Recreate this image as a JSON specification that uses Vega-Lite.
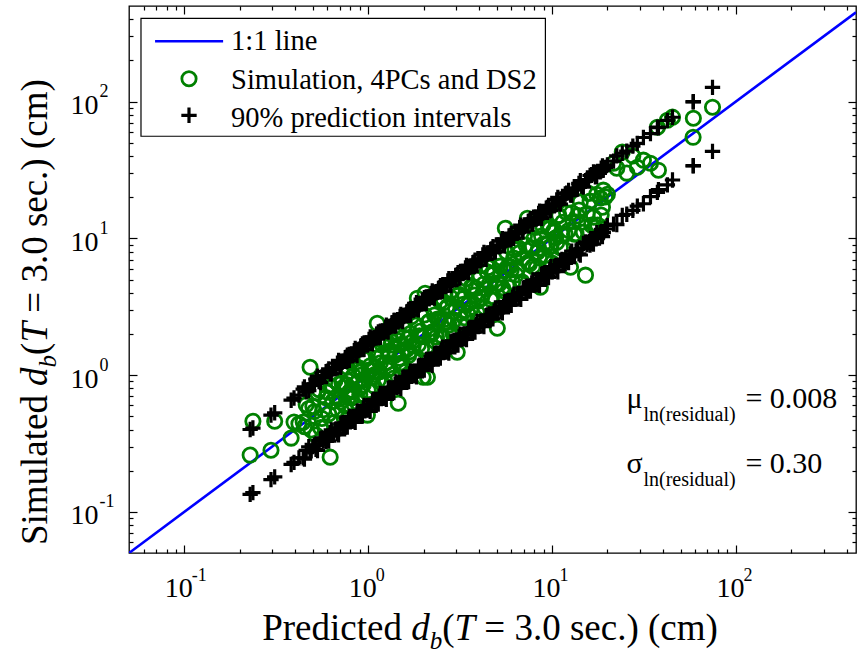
{
 "$schema": "https://vega.github.io/schema/vega-lite/v6.json",
 "width": 727,
 "height": 547,
 "autosize": {"type": "none"},
 "padding": {"left": 129, "top": 6, "right": 2, "bottom": 110},
 "background": "white",
 "config": {
  "view": {"stroke": "black", "strokeWidth": 1.3},
  "font": "Liberation Serif",
  "axis": {"grid": false, "domain": false, "title": null, "labelFont": "Liberation Serif", "labelColor": "black", "tickColor": "black", "tickWidth": 1.2, "labelFlush": false, "labelOverlap": false}
 },
 "resolve": {"axis": {"x": "independent", "y": "independent"}},
 "data": {"values": [
  {"x":0.228,"y":0.26,"lo":0.134,"hi":0.40},
  {"x":0.236,"y":0.46,"lo":0.138,"hi":0.41},
  {"x":0.296,"y":0.282,"lo":0.172,"hi":0.51},
  {"x":0.31,"y":0.46,"lo":0.18,"hi":0.53},
  {"x":0.381,"y":0.346,"lo":0.222,"hi":0.655},
  {"x":0.395,"y":0.453,"lo":0.23,"hi":0.68},
  {"x":0.42,"y":0.441,"lo":0.248,"hi":0.714},
  {"x":0.443,"y":0.453,"lo":0.248,"hi":0.789},
  {"x":0.46,"y":0.607,"lo":0.281,"hi":0.754},
  {"x":0.483,"y":1.14,"lo":0.275,"hi":0.84},
  {"x":0.50,"y":0.59,"lo":0.30,"hi":0.84},
  {"x":0.52,"y":0.364,"lo":0.286,"hi":0.936},
  {"x":0.54,"y":0.783,"lo":0.313,"hi":0.896},
  {"x":0.56,"y":0.482,"lo":0.347,"hi":0.963},
  {"x":0.583,"y":0.417,"lo":0.344,"hi":0.991},
  {"x":0.60,"y":0.75,"lo":0.336,"hi":1.07},
  {"x":0.621,"y":0.251,"lo":0.379,"hi":1.02},
  {"x":0.64,"y":0.64,"lo":0.365,"hi":1.11},
  {"x":0.66,"y":0.911,"lo":0.396,"hi":1.11},
  {"x":0.68,"y":0.558,"lo":0.374,"hi":1.22},
  {"x":0.70,"y":0.672,"lo":0.406,"hi":1.16},
  {"x":0.72,"y":0.878,"lo":0.446,"hi":1.24},
  {"x":0.74,"y":0.488,"lo":0.437,"hi":1.26},
  {"x":0.76,"y":0.851,"lo":0.426,"hi":1.35},
  {"x":0.78,"y":0.686,"lo":0.476,"hi":1.28},
  {"x":0.80,"y":1.24,"lo":0.456,"hi":1.39},
  {"x":0.82,"y":0.771,"lo":0.492,"hi":1.38},
  {"x":0.84,"y":0.605,"lo":0.462,"hi":1.51},
  {"x":0.86,"y":1.10,"lo":0.499,"hi":1.43},
  {"x":0.88,"y":0.898,"lo":0.546,"hi":1.51},
  {"x":0.90,"y":0.72,"lo":0.531,"hi":1.53},
  {"x":0.92,"y":1.06,"lo":0.515,"hi":1.64},
  {"x":0.94,"y":0.846,"lo":0.573,"hi":1.54},
  {"x":0.96,"y":1.30,"lo":0.547,"hi":1.67},
  {"x":0.99,"y":0.51,"lo":0.594,"hi":1.66},
  {"x":1.01,"y":1.09,"lo":0.556,"hi":1.82},
  {"x":1.04,"y":1.09,"lo":0.603,"hi":1.73},
  {"x":1.07,"y":0.835,"lo":0.663,"hi":1.84},
  {"x":1.10,"y":1.45,"lo":0.649,"hi":1.87},
  {"x":1.12,"y":2.39,"lo":0.627,"hi":1.99},
  {"x":1.15,"y":1.06,"lo":0.702,"hi":1.89},
  {"x":1.18,"y":1.39,"lo":0.673,"hi":2.05},
  {"x":1.21,"y":0.847,"lo":0.726,"hi":2.03},
  {"x":1.24,"y":1.80,"lo":0.682,"hi":2.23},
  {"x":1.27,"y":1.09,"lo":0.737,"hi":2.11},
  {"x":1.30,"y":1.43,"lo":0.806,"hi":2.24},
  {"x":1.33,"y":1.66,"lo":0.785,"hi":2.26},
  {"x":1.36,"y":1.01,"lo":0.762,"hi":2.42},
  {"x":1.40,"y":1.40,"lo":0.854,"hi":2.30},
  {"x":1.43,"y":1.97,"lo":0.815,"hi":2.49},
  {"x":1.456,"y":0.623,"lo":0.874,"hi":2.45},
  {"x":1.49,"y":1.22,"lo":0.82,"hi":2.68},
  {"x":1.52,"y":1.46,"lo":0.882,"hi":2.52},
  {"x":1.56,"y":1.90,"lo":0.967,"hi":2.68},
  {"x":1.60,"y":1.06,"lo":0.944,"hi":2.72},
  {"x":1.64,"y":1.84,"lo":0.918,"hi":2.92},
  {"x":1.68,"y":1.48,"lo":1.02,"hi":2.76},
  {"x":1.72,"y":2.67,"lo":0.98,"hi":2.99},
  {"x":1.76,"y":1.65,"lo":1.06,"hi":2.96},
  {"x":1.80,"y":1.30,"lo":0.99,"hi":3.24},
  {"x":1.85,"y":3.65,"lo":1.07,"hi":3.07},
  {"x":1.90,"y":1.94,"lo":1.18,"hi":3.27},
  {"x":1.95,"y":1.56,"lo":1.15,"hi":3.32},
  {"x":1.99,"y":0.965,"lo":1.11,"hi":3.54},
  {"x":2.04,"y":3.97,"lo":1.24,"hi":3.35},
  {"x":2.10,"y":0.965,"lo":1.20,"hi":3.65},
  {"x":2.15,"y":2.47,"lo":1.29,"hi":3.61},
  {"x":2.20,"y":1.98,"lo":1.21,"hi":3.96},
  {"x":2.26,"y":3.05,"lo":1.31,"hi":3.75},
  {"x":2.32,"y":1.76,"lo":1.44,"hi":3.99},
  {"x":2.38,"y":2.57,"lo":1.40,"hi":4.05},
  {"x":2.44,"y":2.56,"lo":1.37,"hi":4.34},
  {"x":2.50,"y":1.95,"lo":1.53,"hi":4.10},
  {"x":2.57,"y":3.39,"lo":1.46,"hi":4.47},
  {"x":2.64,"y":2.43,"lo":1.58,"hi":4.44},
  {"x":2.71,"y":3.20,"lo":1.49,"hi":4.88},
  {"x":2.78,"y":1.95,"lo":1.61,"hi":4.61},
  {"x":2.86,"y":4.15,"lo":1.77,"hi":4.92},
  {"x":2.94,"y":2.53,"lo":1.73,"hi":5.00},
  {"x":3.05,"y":1.47,"lo":1.71,"hi":5.43},
  {"x":3.12,"y":3.90,"lo":1.90,"hi":5.12},
  {"x":3.20,"y":2.37,"lo":1.82,"hi":5.57},
  {"x":3.29,"y":3.29,"lo":1.97,"hi":5.53},
  {"x":3.38,"y":4.66,"lo":1.86,"hi":6.08},
  {"x":3.47,"y":2.85,"lo":2.01,"hi":5.76},
  {"x":3.56,"y":3.42,"lo":2.21,"hi":6.12},
  {"x":3.66,"y":4.47,"lo":2.16,"hi":6.22},
  {"x":3.76,"y":2.48,"lo":2.11,"hi":6.69},
  {"x":3.86,"y":4.32,"lo":2.35,"hi":6.33},
  {"x":3.97,"y":3.49,"lo":2.26,"hi":6.91},
  {"x":4.08,"y":6.32,"lo":2.45,"hi":6.85},
  {"x":4.20,"y":3.95,"lo":2.31,"hi":7.56},
  {"x":4.32,"y":3.11,"lo":2.51,"hi":7.17},
  {"x":4.44,"y":5.68,"lo":2.75,"hi":7.64},
  {"x":4.57,"y":4.66,"lo":2.70,"hi":7.77},
  {"x":4.70,"y":3.76,"lo":2.63,"hi":8.37},
  {"x":4.84,"y":5.57,"lo":2.95,"hi":7.94},
  {"x":5.04,"y":2.20,"lo":2.87,"hi":8.77},
  {"x":5.15,"y":4.64,"lo":3.09,"hi":8.65},
  {"x":5.30,"y":7.16,"lo":2.92,"hi":9.54},
  {"x":5.45,"y":4.14,"lo":3.16,"hi":9.05},
  {"x":5.57,"y":11.85,"lo":3.45,"hi":9.58},
  {"x":5.75,"y":6.21,"lo":3.39,"hi":9.78},
  {"x":5.92,"y":6.22,"lo":3.32,"hi":10.5},
  {"x":6.10,"y":4.76,"lo":3.72,"hi":10.0},
  {"x":6.28,"y":8.29,"lo":3.58,"hi":10.9},
  {"x":6.47,"y":5.95,"lo":3.88,"hi":10.9},
  {"x":6.66,"y":7.86,"lo":3.66,"hi":12.0},
  {"x":6.86,"y":4.80,"lo":3.98,"hi":11.4},
  {"x":7.07,"y":10.3,"lo":4.38,"hi":12.2},
  {"x":7.34,"y":14.0,"lo":4.33,"hi":12.5},
  {"x":7.52,"y":6.47,"lo":4.21,"hi":13.4},
  {"x":7.75,"y":8.53,"lo":4.73,"hi":12.7},
  {"x":7.98,"y":9.98,"lo":4.55,"hi":13.9},
  {"x":8.22,"y":6.08,"lo":4.93,"hi":13.8},
  {"x":8.45,"y":8.45,"lo":4.65,"hi":15.2},
  {"x":8.64,"y":4.39,"lo":5.01,"hi":14.3},
  {"x":8.90,"y":12.3,"lo":5.52,"hi":15.3},
  {"x":9.16,"y":7.51,"lo":5.40,"hi":15.6},
  {"x":9.43,"y":9.05,"lo":5.28,"hi":16.8},
  {"x":9.71,"y":11.8,"lo":5.92,"hi":15.9},
  {"x":10.0,"y":6.6,"lo":5.70,"hi":17.4},
  {"x":10.3,"y":11.5,"lo":6.18,"hi":17.3},
  {"x":10.6,"y":9.33,"lo":5.83,"hi":19.1},
  {"x":10.9,"y":14.7,"lo":6.32,"hi":18.1},
  {"x":11.3,"y":10.6,"lo":7.01,"hi":19.4},
  {"x":11.6,"y":8.35,"lo":6.84,"hi":19.7},
  {"x":12.0,"y":15.4,"lo":6.72,"hi":21.4},
  {"x":12.6,"y":6.15,"lo":7.69,"hi":20.7},
  {"x":13.0,"y":13.3,"lo":7.41,"hi":22.6},
  {"x":13.5,"y":10.8,"lo":8.10,"hi":22.7},
  {"x":14.0,"y":16.1,"lo":7.70,"hi":25.2},
  {"x":14.5,"y":13.1,"lo":8.41,"hi":24.1},
  {"x":15.2,"y":5.38,"lo":9.42,"hi":26.1},
  {"x":15.8,"y":21.3,"lo":9.32,"hi":26.9},
  {"x":16.4,"y":12.5,"lo":9.18,"hi":29.2},
  {"x":17.2,"y":12.0,"lo":10.5,"hi":28.2},
  {"x":17.7,"y":12.5,"lo":10.1,"hi":30.8},
  {"x":18.3,"y":19.7,"lo":11.0,"hi":30.7},
  {"x":18.8,"y":16.9,"lo":10.3,"hi":33.8},
  {"x":19.0,"y":22.5,"lo":11.0,"hi":31.5},
  {"x":20.0,"y":21.0,"lo":12.4,"hi":34.4},
  {"x":21.6,"y":35.4,"lo":12.7,"hi":36.7},
  {"x":22.5,"y":32.6,"lo":12.6,"hi":40.1},
  {"x":24.1,"y":42.7,"lo":14.7,"hi":41.9},
  {"x":25.5,"y":30.0,"lo":15.0,"hi":43.4},
  {"x":27.5,"y":40.0,"lo":16.0,"hi":47.3},
  {"x":29.1,"y":33.1,"lo":17.2,"hi":49.5},
  {"x":31.4,"y":37.3,"lo":17.9,"hi":54.6},
  {"x":34.3,"y":35.4,"lo":20.2,"hi":58.3},
  {"x":37.4,"y":64.9,"lo":21.7,"hi":65.1},
  {"x":37.9,"y":31.5,"lo":22.7,"hi":64.4},
  {"x":42.4,"y":73.0,"lo":24.6,"hi":72.9},
  {"x":45.2,"y":76.9,"lo":26.7,"hi":76.8},
  {"x":58.5,"y":54.8,"lo":33.9,"hi":99.5},
  {"x":58.7,"y":75.5,"lo":34.0,"hi":100},
  {"x":74.6,"y":90.9,"lo":43.3,"hi":127},
  {"x":0.45,"y":0.419,"lo":0.243,"hi":0.819},
  {"x":0.475,"y":0.57,"lo":0.299,"hi":0.77},
  {"x":0.49,"y":0.397,"lo":0.279,"hi":0.862},
  {"x":0.51,"y":0.541,"lo":0.306,"hi":0.862},
  {"x":0.53,"y":0.742,"lo":0.281,"hi":0.981},
  {"x":0.55,"y":0.413,"lo":0.341,"hi":0.88},
  {"x":0.57,"y":0.559,"lo":0.331,"hi":0.986},
  {"x":0.59,"y":0.684,"lo":0.327,"hi":1.06},
  {"x":0.61,"y":0.519,"lo":0.329,"hi":1.11},
  {"x":0.63,"y":0.819,"lo":0.397,"hi":1.02},
  {"x":0.65,"y":0.449,"lo":0.371,"hi":1.14},
  {"x":0.67,"y":0.69,"lo":0.402,"hi":1.13},
  {"x":0.69,"y":0.856,"lo":0.366,"hi":1.28},
  {"x":0.71,"y":0.639,"lo":0.44,"hi":1.14},
  {"x":0.73,"y":0.81,"lo":0.423,"hi":1.26},
  {"x":0.75,"y":0.593,"lo":0.416,"hi":1.34},
  {"x":0.77,"y":1.14,"lo":0.416,"hi":1.40},
  {"x":0.79,"y":0.751,"lo":0.498,"hi":1.28},
  {"x":0.81,"y":0.68,"lo":0.462,"hi":1.43},
  {"x":0.83,"y":0.988,"lo":0.498,"hi":1.40},
  {"x":0.85,"y":0.859,"lo":0.451,"hi":1.57},
  {"x":0.87,"y":0.635,"lo":0.539,"hi":1.39},
  {"x":0.89,"y":1.13,"lo":0.516,"hi":1.54},
  {"x":0.91,"y":0.81,"lo":0.505,"hi":1.63},
  {"x":0.93,"y":1.01,"lo":0.502,"hi":1.69},
  {"x":0.95,"y":0.922,"lo":0.599,"hi":1.54},
  {"x":0.975,"y":1.33,"lo":0.556,"hi":1.72},
  {"x":1.0,"y":0.77,"lo":0.60,"hi":1.69},
  {"x":1.025,"y":1.17,"lo":0.543,"hi":1.90},
  {"x":1.055,"y":0.96,"lo":0.654,"hi":1.69},
  {"x":1.085,"y":1.01,"lo":0.629,"hi":1.88},
  {"x":1.11,"y":1.33,"lo":0.616,"hi":1.99},
  {"x":1.135,"y":0.919,"lo":0.613,"hi":2.07},
  {"x":1.165,"y":1.23,"lo":0.734,"hi":1.89},
  {"x":1.195,"y":1.67,"lo":0.681,"hi":2.10},
  {"x":1.225,"y":0.919,"lo":0.735,"hi":2.07},
  {"x":1.255,"y":1.23,"lo":0.665,"hi":2.32},
  {"x":1.285,"y":1.49,"lo":0.797,"hi":2.06},
  {"x":1.315,"y":1.12,"lo":0.763,"hi":2.27},
  {"x":1.345,"y":1.75,"lo":0.746,"hi":2.41},
  {"x":1.38,"y":0.952,"lo":0.745,"hi":2.51},
  {"x":1.415,"y":1.46,"lo":0.891,"hi":2.29},
  {"x":1.445,"y":1.79,"lo":0.824,"hi":2.54},
  {"x":1.475,"y":1.33,"lo":0.885,"hi":2.49},
  {"x":1.505,"y":1.67,"lo":0.798,"hi":2.78},
  {"x":1.54,"y":1.22,"lo":0.955,"hi":2.46},
  {"x":1.58,"y":2.34,"lo":0.916,"hi":2.73},
  {"x":1.62,"y":1.54,"lo":0.899,"hi":2.90},
  {"x":1.66,"y":1.39,"lo":0.896,"hi":3.02},
  {"x":1.70,"y":2.02,"lo":1.07,"hi":2.75},
  {"x":1.74,"y":1.76,"lo":0.992,"hi":3.06},
  {"x":1.78,"y":1.30,"lo":1.07,"hi":3.01},
  {"x":1.83,"y":2.32,"lo":0.97,"hi":3.39},
  {"x":1.875,"y":1.67,"lo":1.16,"hi":3.00},
  {"x":1.925,"y":2.10,"lo":1.12,"hi":3.33},
  {"x":1.97,"y":1.91,"lo":1.09,"hi":3.53},
  {"x":2.02,"y":2.75,"lo":1.09,"hi":3.68},
  {"x":2.07,"y":1.59,"lo":1.30,"hi":3.35},
  {"x":2.12,"y":2.42,"lo":1.21,"hi":3.73},
  {"x":2.175,"y":1.98,"lo":1.31,"hi":3.68},
  {"x":2.23,"y":2.07,"lo":1.18,"hi":4.13},
  {"x":2.29,"y":2.75,"lo":1.42,"hi":3.66},
  {"x":2.35,"y":1.90,"lo":1.36,"hi":4.07},
  {"x":2.41,"y":2.55,"lo":1.34,"hi":4.31},
  {"x":2.47,"y":3.46,"lo":1.33,"hi":4.50},
  {"x":2.535,"y":1.90,"lo":1.60,"hi":4.11},
  {"x":2.6,"y":2.55,"lo":1.48,"hi":4.58},
  {"x":2.675,"y":3.10,"lo":1.61,"hi":4.52},
  {"x":2.745,"y":2.33,"lo":1.45,"hi":5.08},
  {"x":2.82,"y":3.67,"lo":1.75,"hi":4.51},
  {"x":2.9,"y":2.00,"lo":1.68,"hi":5.02},
  {"x":2.99,"y":3.08,"lo":1.66,"hi":5.35},
  {"x":3.08,"y":3.82,"lo":1.66,"hi":5.61},
  {"x":3.16,"y":2.84,"lo":1.99,"hi":5.12},
  {"x":3.25,"y":3.61,"lo":1.85,"hi":5.72},
  {"x":3.335,"y":2.63,"lo":2.00,"hi":5.64},
  {"x":3.425,"y":5.07,"lo":1.82,"hi":6.34},
  {"x":3.515,"y":3.34,"lo":2.18,"hi":5.62},
  {"x":3.61,"y":3.03,"lo":2.09,"hi":6.25},
  {"x":3.71,"y":4.41,"lo":2.06,"hi":6.64},
  {"x":3.81,"y":3.85,"lo":2.06,"hi":6.93},
  {"x":3.915,"y":2.86,"lo":2.47,"hi":6.34},
  {"x":4.02,"y":5.11,"lo":2.29,"hi":7.08},
  {"x":4.14,"y":3.68,"lo":2.48,"hi":7.00},
  {"x":4.26,"y":4.64,"lo":2.26,"hi":7.88},
  {"x":4.38,"y":4.25,"lo":2.72,"hi":7.01},
  {"x":4.5,"y":6.12,"lo":2.61,"hi":7.79},
  {"x":4.635,"y":3.57,"lo":2.57,"hi":8.30},
  {"x":4.77,"y":5.44,"lo":2.58,"hi":8.68},
  {"x":4.92,"y":4.48,"lo":3.10,"hi":7.97},
  {"x":5.08,"y":4.72,"lo":2.90,"hi":8.94},
  {"x":5.22,"y":6.26,"lo":3.13,"hi":8.82},
  {"x":5.37,"y":4.35,"lo":2.85,"hi":9.93},
  {"x":5.51,"y":5.84,"lo":3.42,"hi":8.82},
  {"x":5.66,"y":7.92,"lo":3.28,"hi":9.79},
  {"x":5.83,"y":4.37,"lo":3.24,"hi":10.4},
  {"x":6.0,"y":5.88,"lo":3.24,"hi":10.9},
  {"x":6.19,"y":7.18,"lo":3.90,"hi":10.0},
  {"x":6.37,"y":5.41,"lo":3.63,"hi":11.2},
  {"x":6.56,"y":8.53,"lo":3.94,"hi":11.1},
  {"x":6.76,"y":4.66,"lo":3.58,"hi":12.5},
  {"x":6.96,"y":7.17,"lo":4.32,"hi":11.1},
  {"x":7.2,"y":8.93,"lo":4.18,"hi":12.5},
  {"x":7.42,"y":6.68,"lo":4.12,"hi":13.3},
  {"x":7.63,"y":8.47,"lo":4.12,"hi":13.9},
  {"x":7.87,"y":6.22,"lo":4.96,"hi":12.7},
  {"x":8.1,"y":12.0,"lo":4.62,"hi":14.3},
  {"x":8.33,"y":7.91,"lo":5.00,"hi":14.1},
  {"x":8.55,"y":7.18,"lo":4.53,"hi":15.8},
  {"x":8.77,"y":10.4,"lo":5.44,"hi":14.0},
  {"x":9.03,"y":9.12,"lo":5.24,"hi":15.6},
  {"x":9.3,"y":6.79,"lo":5.16,"hi":16.6},
  {"x":9.57,"y":12.2,"lo":5.17,"hi":17.4},
  {"x":9.85,"y":8.77,"lo":6.21,"hi":16.0},
  {"x":10.15,"y":11.1,"lo":5.79,"hi":17.9},
  {"x":10.45,"y":10.1,"lo":6.27,"hi":17.7},
  {"x":10.75,"y":14.6,"lo":5.70,"hi":19.9},
  {"x":11.1,"y":8.55,"lo":6.88,"hi":17.8},
  {"x":11.45,"y":13.1,"lo":6.64,"hi":19.8},
  {"x":11.8,"y":10.7,"lo":6.55,"hi":21.1},
  {"x":12.3,"y":11.4,"lo":6.64,"hi":22.4},
  {"x":12.8,"y":15.4,"lo":8.06,"hi":20.7},
  {"x":13.25,"y":10.7,"lo":7.55,"hi":23.3},
  {"x":13.75,"y":14.6,"lo":8.25,"hi":23.2},
  {"x":14.25,"y":18.5,"lo":7.55,"hi":26.4},
  {"x":14.8,"y":11.1,"lo":9.18,"hi":23.7},
  {"x":15.5,"y":15.2,"lo":8.99,"hi":26.8},
  {"x":16.1,"y":18.7,"lo":8.94,"hi":28.8},
  {"x":16.8,"y":14.3,"lo":9.07,"hi":30.6},
  {"x":17.5,"y":21.0,"lo":11.0,"hi":28.4},
  {"x":18.5,"y":14.8,"lo":10.5,"hi":32.6},
  {"x":19.5,"y":20.1,"lo":11.7,"hi":33.0}
 ]},
 "layer": [
  {
   "data": {"values": [{"x": 0.05, "y": 0.05}, {"x": 450, "y": 450}]},
   "mark": {"type": "line", "color": "#0000ff", "strokeWidth": 2.6, "clip": true},
   "encoding": {
    "x": {"field": "x", "type": "quantitative", "scale": {"type": "log", "domain": [0.05, 450], "nice": false},
     "axis": {"orient": "bottom", "values": [0.1, 1, 10, 100], "labelExpr": "'10'", "tickSize": 0, "labelFontSize": 28, "labelBaseline": "alphabetic", "labelPadding": 43, "labelOffset": -6}},
    "y": {"field": "y", "type": "quantitative", "scale": {"type": "log", "domain": [0.05, 500], "nice": false},
     "axis": {"orient": "left", "values": [0.1, 1, 10, 100], "labelExpr": "'10'", "tickSize": 0, "labelFontSize": 28, "labelAlign": "right", "labelBaseline": "middle", "labelPadding": 31, "labelOffset": 4}}
   }
  },
  {
   "mark": {"type": "point", "shape": "circle", "filled": false, "size": 205, "strokeWidth": 2.8, "color": "#008000", "opacity": 1},
   "encoding": {
    "x": {"field": "x", "type": "quantitative", "scale": {"type": "log", "domain": [0.05, 450], "nice": false},
     "axis": {"orient": "bottom", "values": [0.1, 1, 10, 100], "labels": false, "tickSize": -8}},
    "y": {"field": "y", "type": "quantitative", "scale": {"type": "log", "domain": [0.05, 500], "nice": false},
     "axis": {"orient": "left", "values": [0.1, 1, 10, 100], "labels": false, "tickSize": -8}}
   }
  },
  {
   "mark": {"type": "point", "shape": "M-1,0H1M0,-1V1", "filled": false, "size": 235, "strokeWidth": 3.2, "color": "black", "opacity": 1},
   "encoding": {
    "x": {"field": "x", "type": "quantitative", "scale": {"type": "log", "domain": [0.05, 450], "nice": false},
     "axis": {"orient": "bottom", "values": [0.06,0.07,0.08,0.09,0.2,0.3,0.4,0.5,0.6,0.7,0.8,0.9,2,3,4,5,6,7,8,9,20,30,40,50,60,70,80,90,200,300,400], "labels": false, "tickSize": -4}},
    "y": {"field": "lo", "type": "quantitative", "scale": {"type": "log", "domain": [0.05, 500], "nice": false},
     "axis": {"orient": "left", "values": [0.06,0.07,0.08,0.09,0.2,0.3,0.4,0.5,0.6,0.7,0.8,0.9,2,3,4,5,6,7,8,9,20,30,40,50,60,70,80,90,200,300,400], "labels": false, "tickSize": -4}}
   }
  },
  {
   "mark": {"type": "point", "shape": "M-1,0H1M0,-1V1", "filled": false, "size": 235, "strokeWidth": 3.2, "color": "black", "opacity": 1},
   "encoding": {
    "x": {"field": "x", "type": "quantitative", "scale": {"type": "log", "domain": [0.05, 450], "nice": false},
     "axis": {"orient": "top", "values": [0.1, 1, 10, 100], "labels": false, "tickSize": -8}},
    "y": {"field": "hi", "type": "quantitative", "scale": {"type": "log", "domain": [0.05, 500], "nice": false},
     "axis": {"orient": "right", "values": [0.1, 1, 10, 100], "labels": false, "tickSize": -8}}
   }
  },
  {
   "data": {"values": [{}]},
   "mark": {"type": "rect", "fill": "white", "stroke": "black", "strokeWidth": 1.2},
   "encoding": {
    "x": {"datum": 0.0581, "type": "quantitative", "scale": {"type": "log", "domain": [0.05, 450], "nice": false},
     "axis": {"orient": "top", "values": [0.06,0.07,0.08,0.09,0.2,0.3,0.4,0.5,0.6,0.7,0.8,0.9,2,3,4,5,6,7,8,9,20,30,40,50,60,70,80,90,200,300,400], "labels": false, "tickSize": -4}},
    "x2": {"datum": 9.2},
    "y": {"datum": 406.4, "type": "quantitative", "scale": {"type": "log", "domain": [0.05, 500], "nice": false},
     "axis": {"orient": "right", "values": [0.06,0.07,0.08,0.09,0.2,0.3,0.4,0.5,0.6,0.7,0.8,0.9,2,3,4,5,6,7,8,9,20,30,40,50,60,70,80,90,200,300,400], "labels": false, "tickSize": -4}},
    "y2": {"datum": 55.8}
   }
  },
  {
   "data": {"values": [{}]},
   "mark": {"type": "rule", "color": "#0000ff", "strokeWidth": 2.6},
   "encoding": {
    "x": {"datum": 0.0693, "type": "quantitative", "scale": {"type": "log", "domain": [0.05, 450], "nice": false},
     "axis": {"orient": "bottom", "values": [0.1, 1, 10, 100], "labelExpr": "datum.value < 0.5 ? '-1' : datum.value < 5 ? '0' : datum.value < 50 ? '1' : '2'", "tickSize": 0, "labelFontSize": 18, "labelAlign": "left", "labelBaseline": "alphabetic", "labelPadding": 27, "labelOffset": 7}},
    "x2": {"datum": 0.1625},
    "y": {"datum": 276, "type": "quantitative", "scale": {"type": "log", "domain": [0.05, 500], "nice": false},
     "axis": {"orient": "left", "values": [0.1, 1, 10, 100], "labelExpr": "datum.value < 0.5 ? '-1' : datum.value < 5 ? '0' : datum.value < 50 ? '1' : '2'", "tickSize": 0, "labelFontSize": 18, "labelAlign": "left", "labelBaseline": "middle", "labelPadding": 30, "labelOffset": -10}}
   }
  },
  {
   "data": {"values": [{}]},
   "mark": {"type": "point", "shape": "circle", "filled": false, "size": 205, "strokeWidth": 2.8, "color": "#008000", "opacity": 1},
   "encoding": {
    "x": {"datum": 0.106, "type": "quantitative", "scale": {"type": "log", "domain": [0.05, 450], "nice": false}, "axis": null},
    "y": {"datum": 146.8, "type": "quantitative", "scale": {"type": "log", "domain": [0.05, 500], "nice": false}, "axis": null}
   }
  },
  {
   "data": {"values": [{}]},
   "mark": {"type": "point", "shape": "M-1,0H1M0,-1V1", "filled": false, "size": 235, "strokeWidth": 3.2, "color": "black", "opacity": 1},
   "encoding": {
    "x": {"datum": 0.106, "type": "quantitative", "scale": {"type": "log", "domain": [0.05, 450], "nice": false}, "axis": null},
    "y": {"datum": 79.4, "type": "quantitative", "scale": {"type": "log", "domain": [0.05, 500], "nice": false}, "axis": null}
   }
  },
  {
   "data": {"values": [{}]},
   "mark": {"type": "text", "text": "1:1 line", "font": "Liberation Serif", "fontSize": 28.5, "align": "left", "baseline": "alphabetic", "color": "black"},
   "encoding": {
    "x": {"datum": 0.1796, "type": "quantitative", "scale": {"type": "log", "domain": [0.05, 450], "nice": false}, "axis": null},
    "y": {"datum": 237.2, "type": "quantitative", "scale": {"type": "log", "domain": [0.05, 500], "nice": false}, "axis": null}
   }
  },
  {
   "data": {"values": [{}]},
   "mark": {"type": "text", "text": "Simulation, 4PCs and DS2", "font": "Liberation Serif", "fontSize": 28.5, "align": "left", "baseline": "alphabetic", "color": "black"},
   "encoding": {
    "x": {"datum": 0.1796, "type": "quantitative", "scale": {"type": "log", "domain": [0.05, 450], "nice": false}, "axis": null},
    "y": {"datum": 124.5, "type": "quantitative", "scale": {"type": "log", "domain": [0.05, 500], "nice": false}, "axis": null}
   }
  },
  {
   "data": {"values": [{}]},
   "mark": {"type": "text", "text": "90% prediction intervals", "font": "Liberation Serif", "fontSize": 28.5, "align": "left", "baseline": "alphabetic", "color": "black"},
   "encoding": {
    "x": {"datum": 0.1796, "type": "quantitative", "scale": {"type": "log", "domain": [0.05, 450], "nice": false}, "axis": null},
    "y": {"datum": 65.2, "type": "quantitative", "scale": {"type": "log", "domain": [0.05, 500], "nice": false}, "axis": null}
   }
  },
  {
   "data": {"values": [{}]},
   "mark": {"type": "text", "text": "Predicted", "font": "Liberation Serif", "fontSize": 37, "align": "left", "baseline": "alphabetic", "color": "black", "dy": 87},
   "encoding": {
    "x": {"datum": 0.265, "type": "quantitative", "scale": {"type": "log", "domain": [0.05, 450], "nice": false}, "axis": null},
    "y": {"datum": 0.05, "type": "quantitative", "scale": {"type": "log", "domain": [0.05, 500], "nice": false}, "axis": null}
   }
  },
  {
   "data": {"values": [{}]},
   "mark": {"type": "text", "text": "d", "font": "Liberation Serif", "fontStyle": "italic", "fontSize": 37, "align": "left", "baseline": "alphabetic", "color": "black", "dy": 87},
   "encoding": {
    "x": {"datum": 1.715, "type": "quantitative", "scale": {"type": "log", "domain": [0.05, 450], "nice": false}, "axis": null},
    "y": {"datum": 0.05, "type": "quantitative", "scale": {"type": "log", "domain": [0.05, 500], "nice": false}, "axis": null}
   }
  },
  {
   "data": {"values": [{}]},
   "mark": {"type": "text", "text": "b", "font": "Liberation Serif", "fontStyle": "italic", "fontSize": 25, "align": "left", "baseline": "alphabetic", "color": "black", "dy": 96},
   "encoding": {
    "x": {"datum": 2.16, "type": "quantitative", "scale": {"type": "log", "domain": [0.05, 450], "nice": false}, "axis": null},
    "y": {"datum": 0.05, "type": "quantitative", "scale": {"type": "log", "domain": [0.05, 500], "nice": false}, "axis": null}
   }
  },
  {
   "data": {"values": [{}]},
   "mark": {"type": "text", "text": "(", "font": "Liberation Serif", "fontSize": 37, "align": "left", "baseline": "alphabetic", "color": "black", "dy": 87},
   "encoding": {
    "x": {"datum": 2.53, "type": "quantitative", "scale": {"type": "log", "domain": [0.05, 450], "nice": false}, "axis": null},
    "y": {"datum": 0.05, "type": "quantitative", "scale": {"type": "log", "domain": [0.05, 500], "nice": false}, "axis": null}
   }
  },
  {
   "data": {"values": [{}]},
   "mark": {"type": "text", "text": "T", "font": "Liberation Serif", "fontStyle": "italic", "fontSize": 37, "align": "left", "baseline": "alphabetic", "color": "black", "dy": 87},
   "encoding": {
    "x": {"datum": 2.95, "type": "quantitative", "scale": {"type": "log", "domain": [0.05, 450], "nice": false}, "axis": null},
    "y": {"datum": 0.05, "type": "quantitative", "scale": {"type": "log", "domain": [0.05, 500], "nice": false}, "axis": null}
   }
  },
  {
   "data": {"values": [{}]},
   "mark": {"type": "text", "text": "= 3.0 sec.) (cm)", "font": "Liberation Serif", "fontSize": 37, "align": "left", "baseline": "alphabetic", "color": "black", "dy": 87},
   "encoding": {
    "x": {"datum": 4.28, "type": "quantitative", "scale": {"type": "log", "domain": [0.05, 450], "nice": false}, "axis": null},
    "y": {"datum": 0.05, "type": "quantitative", "scale": {"type": "log", "domain": [0.05, 500], "nice": false}, "axis": null}
   }
  },
  {
   "data": {"values": [{}]},
   "mark": {"type": "text", "text": "Simulated", "font": "Liberation Serif", "fontSize": 37, "angle": 270, "align": "left", "baseline": "alphabetic", "color": "black", "dy": -82},
   "encoding": {
    "x": {"datum": 0.05, "type": "quantitative", "scale": {"type": "log", "domain": [0.05, 450], "nice": false}, "axis": null},
    "y": {"datum": 0.0571, "type": "quantitative", "scale": {"type": "log", "domain": [0.05, 500], "nice": false}, "axis": null}
   }
  },
  {
   "data": {"values": [{}]},
   "mark": {"type": "text", "text": "d", "font": "Liberation Serif", "fontStyle": "italic", "fontSize": 37, "angle": 270, "align": "left", "baseline": "alphabetic", "color": "black", "dy": -82},
   "encoding": {
    "x": {"datum": 0.05, "type": "quantitative", "scale": {"type": "log", "domain": [0.05, 450], "nice": false}, "axis": null},
    "y": {"datum": 0.833, "type": "quantitative", "scale": {"type": "log", "domain": [0.05, 500], "nice": false}, "axis": null}
   }
  },
  {
   "data": {"values": [{}]},
   "mark": {"type": "text", "text": "b", "font": "Liberation Serif", "fontStyle": "italic", "fontSize": 25, "angle": 270, "align": "left", "baseline": "alphabetic", "color": "black", "dy": -73},
   "encoding": {
    "x": {"datum": 0.05, "type": "quantitative", "scale": {"type": "log", "domain": [0.05, 450], "nice": false}, "axis": null},
    "y": {"datum": 1.138, "type": "quantitative", "scale": {"type": "log", "domain": [0.05, 500], "nice": false}, "axis": null}
   }
  },
  {
   "data": {"values": [{}]},
   "mark": {"type": "text", "text": "(", "font": "Liberation Serif", "fontSize": 37, "angle": 270, "align": "left", "baseline": "alphabetic", "color": "black", "dy": -82},
   "encoding": {
    "x": {"datum": 0.05, "type": "quantitative", "scale": {"type": "log", "domain": [0.05, 450], "nice": false}, "axis": null},
    "y": {"datum": 1.403, "type": "quantitative", "scale": {"type": "log", "domain": [0.05, 500], "nice": false}, "axis": null}
   }
  },
  {
   "data": {"values": [{}]},
   "mark": {"type": "text", "text": "T", "font": "Liberation Serif", "fontStyle": "italic", "fontSize": 37, "angle": 270, "align": "left", "baseline": "alphabetic", "color": "black", "dy": -82},
   "encoding": {
    "x": {"datum": 0.05, "type": "quantitative", "scale": {"type": "log", "domain": [0.05, 450], "nice": false}, "axis": null},
    "y": {"datum": 1.729, "type": "quantitative", "scale": {"type": "log", "domain": [0.05, 500], "nice": false}, "axis": null}
   }
  },
  {
   "data": {"values": [{}]},
   "mark": {"type": "text", "text": "= 3.0 sec.) (cm)", "font": "Liberation Serif", "fontSize": 37, "angle": 270, "align": "left", "baseline": "alphabetic", "color": "black", "dy": -82},
   "encoding": {
    "x": {"datum": 0.05, "type": "quantitative", "scale": {"type": "log", "domain": [0.05, 450], "nice": false}, "axis": null},
    "y": {"datum": 2.857, "type": "quantitative", "scale": {"type": "log", "domain": [0.05, 500], "nice": false}, "axis": null}
   }
  },
  {
   "data": {"values": [{}]},
   "mark": {"type": "text", "text": "μ", "font": "Liberation Serif", "fontSize": 30, "align": "left", "baseline": "alphabetic", "color": "black"},
   "encoding": {
    "x": {"datum": 25.4, "type": "quantitative", "scale": {"type": "log", "domain": [0.05, 450], "nice": false}, "axis": null},
    "y": {"datum": 0.573, "type": "quantitative", "scale": {"type": "log", "domain": [0.05, 500], "nice": false}, "axis": null}
   }
  },
  {
   "data": {"values": [{}]},
   "mark": {"type": "text", "text": "ln(residual)", "font": "Liberation Serif", "fontSize": 20, "align": "left", "baseline": "alphabetic", "color": "black", "dy": 13},
   "encoding": {
    "x": {"datum": 31.4, "type": "quantitative", "scale": {"type": "log", "domain": [0.05, 450], "nice": false}, "axis": null},
    "y": {"datum": 0.573, "type": "quantitative", "scale": {"type": "log", "domain": [0.05, 500], "nice": false}, "axis": null}
   }
  },
  {
   "data": {"values": [{}]},
   "mark": {"type": "text", "text": "= 0.008", "font": "Liberation Serif", "fontSize": 30, "align": "left", "baseline": "alphabetic", "color": "black"},
   "encoding": {
    "x": {"datum": 112.7, "type": "quantitative", "scale": {"type": "log", "domain": [0.05, 450], "nice": false}, "axis": null},
    "y": {"datum": 0.573, "type": "quantitative", "scale": {"type": "log", "domain": [0.05, 500], "nice": false}, "axis": null}
   }
  },
  {
   "data": {"values": [{}]},
   "mark": {"type": "text", "text": "σ", "font": "Liberation Serif", "fontSize": 30, "align": "left", "baseline": "alphabetic", "color": "black"},
   "encoding": {
    "x": {"datum": 25.4, "type": "quantitative", "scale": {"type": "log", "domain": [0.05, 450], "nice": false}, "axis": null},
    "y": {"datum": 0.192, "type": "quantitative", "scale": {"type": "log", "domain": [0.05, 500], "nice": false}, "axis": null}
   }
  },
  {
   "data": {"values": [{}]},
   "mark": {"type": "text", "text": "ln(residual)", "font": "Liberation Serif", "fontSize": 20, "align": "left", "baseline": "alphabetic", "color": "black", "dy": 13},
   "encoding": {
    "x": {"datum": 31.4, "type": "quantitative", "scale": {"type": "log", "domain": [0.05, 450], "nice": false}, "axis": null},
    "y": {"datum": 0.192, "type": "quantitative", "scale": {"type": "log", "domain": [0.05, 500], "nice": false}, "axis": null}
   }
  },
  {
   "data": {"values": [{}]},
   "mark": {"type": "text", "text": "= 0.30", "font": "Liberation Serif", "fontSize": 30, "align": "left", "baseline": "alphabetic", "color": "black"},
   "encoding": {
    "x": {"datum": 112.7, "type": "quantitative", "scale": {"type": "log", "domain": [0.05, 450], "nice": false}, "axis": null},
    "y": {"datum": 0.192, "type": "quantitative", "scale": {"type": "log", "domain": [0.05, 500], "nice": false}, "axis": null}
   }
  }
 ]
}
